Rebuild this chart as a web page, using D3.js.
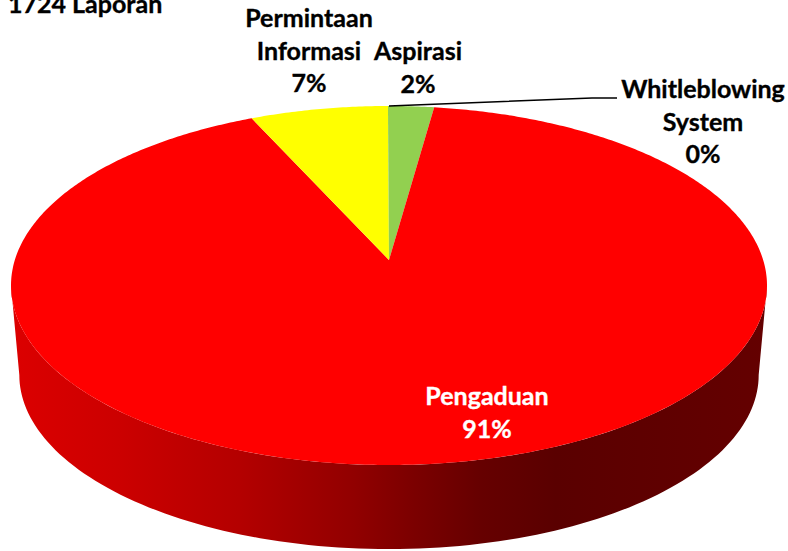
<!DOCTYPE html>
<html>
<head>
<meta charset="utf-8">
<script src="https://cdn.jsdelivr.net/npm/d3@7"></script>
<style>
    html, body { margin: 0; padding: 0; background: #fff; }
    svg { display: block; }
    text { font-family: Lato, "Open Sans", sans-serif; font-weight: 700; font-size: 25px; text-anchor: middle; stroke-width: 0.35px; }
</style>
</head>
<body>
<div id="chart"></div>
<script>
// Data (order = clockwise from the top of the pie)
const categories = ["Aspirasi", "Pengaduan", "Permintaan Informasi", "Whitleblowing System"];
const shares = [2.2, 91.0, 6.75, 0.05];
const colors = ["#92d050", "#ff0000", "#ffff00", "#92d050"];
const chartTitle = "1724 Laporan";

const labelLines = [
    ["Aspirasi", "2%"],
    ["Pengaduan", "91%"],
    ["Permintaan", "Informasi", "7%"],
    ["Whitleblowing", "System", "0%"]
];
const labelAnchors = [[418, 60], [487, 405], [309, 27], [703, 98]];
const labelColors = ["#000", "#fff", "#000", "#000"];

const WIDTH = 788, HEIGHT = 551;

// Pie seen in perspective: the apex is not the middle of the ellipse
const apex = { x: 389, y: 260 };
const topY = 106, bottomY = 465;
const halfWidth = 378;

// y(c) = (a*c + apex.y) / (1 + persp*c), c = cos(angle), solved from top / apex / bottom
const persp = (topY + bottomY - 2 * apex.y) / (bottomY - topY);
const a = topY * (1 + persp) - apex.y;
const radiusX = halfWidth * Math.sqrt(1 - persp * persp);

function project(angle) {
    const c = Math.cos(angle), s = Math.sin(angle);
    const d = 1 + persp * c;
    return [apex.x + radiusX * s / d, (a * c + apex.y) / d];
}

// Lower rim is a bit narrower and sits lower
const rimShiftY = 89.5, rimScaleX = 0.978, rimScaleY = 0.97;
const midY = (topY + bottomY) / 2;
function projectRim(angle) {
    const [x, y] = project(angle);
    return [apex.x + (x - apex.x) * rimScaleX, midY + rimShiftY + (y - midY) * rimScaleY];
}

const svg = d3.select("#chart")
    .append("svg")
    .attr("width", WIDTH)
    .attr("height", HEIGHT);

// Side wall shading, left to right
const wallStops = [
    [0, "#dc0000"], [0.14, "#cc0000"], [0.3, "#b40000"], [0.45, "#920000"],
    [0.53, "#7c0000"], [0.62, "#660000"], [0.72, "#5a0000"], [1, "#640000"]
];
const grad = svg.append("defs").append("linearGradient")
    .attr("id", "wallGrad")
    .attr("gradientUnits", "userSpaceOnUse")
    .attr("x1", 12).attr("x2", 767).attr("y1", 0).attr("y2", 0);
grad.selectAll("stop")
    .data(wallStops)
    .join("stop")
    .attr("offset", d => d[0])
    .attr("stop-color", d => d[1]);

const line = d3.line();

// Wall: top ellipse lower half out, rim back
const tangent = Math.acos(-persp);
const sweep = d3.range(0, 1.0001, 1 / 120).map(t => tangent + t * (2 * Math.PI - 2 * tangent));
const wallPoints = sweep.map(project).concat(sweep.slice().reverse().map(projectRim));
svg.append("path")
    .attr("d", line(wallPoints) + "Z")
    .attr("fill", "url(#wallGrad)");

// Top face, one slice per category
const pie = d3.pie().sort(null).value(d => d);
const slices = pie(shares);

svg.selectAll("path.slice")
    .data(slices)
    .join("path")
    .attr("class", "slice")
    .attr("fill", (d, i) => colors[i])
    .attr("d", d => {
        const n = Math.max(2, Math.ceil((d.endAngle - d.startAngle) / 0.01));
        const edge = d3.range(n + 1).map(j => project(d.startAngle + (d.endAngle - d.startAngle) * j / n));
        return line([[apex.x, apex.y], ...edge]) + "Z";
    });

// Leader line of the 0% slice
const leaderStart = project(0);
svg.append("path")
    .attr("d", line([leaderStart, [592, 98], [617, 98]]))
    .attr("fill", "none")
    .attr("stroke", "#000")
    .attr("stroke-width", 1.6);

// Labels
const LINE_STEP = 32.5;
const labels = svg.selectAll("text.label")
    .data(labelLines)
    .join("text")
    .attr("class", "label")
    .attr("fill", (d, i) => labelColors[i])
    .attr("stroke", (d, i) => labelColors[i]);
labels.selectAll("tspan")
    .data((d, i) => d.map((t, j) => ({ t, x: labelAnchors[i][0], y: labelAnchors[i][1] + j * LINE_STEP })))
    .join("tspan")
    .attr("x", d => d.x)
    .attr("y", d => d.y)
    .text(d => d.t);

svg.append("text")
    .attr("x", 8)
    .attr("y", 13)
    .attr("stroke", "#000")
    .style("text-anchor", "start")
    .text(chartTitle);
</script>
</body>
</html>
